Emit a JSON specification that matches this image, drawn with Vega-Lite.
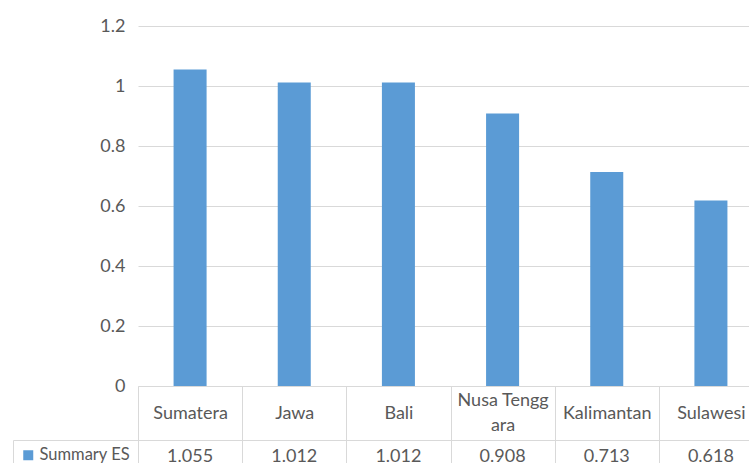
{
  "$schema": "https://vega.github.io/schema/vega-lite/v6.json",
  "background": "white",
  "padding": {"left": 12, "top": 17, "right": 0, "bottom": 0},
  "data": {
    "values": [
      {"region": "Sumatera", "series": "Summary ES", "es": 1.055},
      {"region": "Jawa", "series": "Summary ES", "es": 1.012},
      {"region": "Bali", "series": "Summary ES", "es": 1.012},
      {"region": "Nusa Tenggara", "series": "Summary ES", "es": 0.908},
      {"region": "Kalimantan", "series": "Summary ES", "es": 0.713},
      {"region": "Sulawesi", "series": "Summary ES", "es": 0.618}
    ]
  },
  "config": {
    "font": "Lato",
    "view": {"stroke": null},
    "axis": {"labelFont": "Lato", "labelColor": "#595959", "labelFontSize": 18}
  },
  "bounds": "flush",
  "spacing": 54,
  "resolve": {"scale": {"x": "independent"}, "legend": {"color": "independent"}},
  "vconcat": [
    {
      "width": 625,
      "height": 360,
      "mark": {"type": "bar"},
      "encoding": {
        "x": {
          "field": "region",
          "type": "nominal",
          "sort": null,
          "scale": {"paddingInner": 0.683, "paddingOuter": 0.3415},
          "axis": {
            "title": null,
            "labelAngle": 0,
            "ticks": true,
            "tickOffset": -52.083,
            "labelOffset": 52.083,
            "tickSize": 54,
            "tickWidth": 1,
            "tickColor": "#d9d9d9",
            "domainColor": "#d9d9d9",
            "labelBaseline": "middle",
            "labelPadding": {"condition": {"test": "datum.value == 'Nusa Tenggara'", "value": -40}, "value": -27},
            "labelLineHeight": 25,
            "labelExpr": "datum.value == 'Nusa Tenggara' ? ['Nusa Tengg', 'ara'] : datum.value"
          }
        },
        "y": {
          "field": "es",
          "type": "quantitative",
          "scale": {"domain": [0, 1.2]},
          "axis": {
            "title": null,
            "values": [0, 0.2, 0.4, 0.6, 0.8, 1, 1.2],
            "format": ".1~f",
            "domain": false,
            "ticks": false,
            "labelPadding": 13,
            "gridColor": "#d9d9d9",
            "gridWidth": 1
          }
        },
        "color": {
          "field": "series",
          "type": "nominal",
          "scale": {"range": ["#5b9bd5"]},
          "legend": {
            "orient": "none",
            "legendX": -125,
            "legendY": 414,
            "title": null,
            "symbolType": "square",
            "symbolSize": 100,
            "symbolStrokeWidth": 0,
            "labelFont": "Lato",
            "labelFontSize": 16.5,
            "labelColor": "#595959",
            "labelOffset": 3,
            "padding": 7,
            "strokeColor": "#d9d9d9"
          }
        }
      }
    },
    {
      "width": 625,
      "height": 34,
      "view": {"stroke": "#d9d9d9"},
      "mark": {"type": "text", "font": "Lato", "fontSize": 18, "color": "#595959"},
      "encoding": {
        "x": {
          "field": "region",
          "type": "nominal",
          "sort": null,
          "scale": {"paddingInner": 0, "paddingOuter": 0},
          "axis": {
            "title": null,
            "labels": false,
            "ticks": false,
            "domain": false,
            "grid": true,
            "tickBand": "extent",
            "gridColor": "#d9d9d9"
          }
        },
        "text": {"field": "es", "type": "quantitative", "format": ".3f"}
      }
    }
  ]
}
